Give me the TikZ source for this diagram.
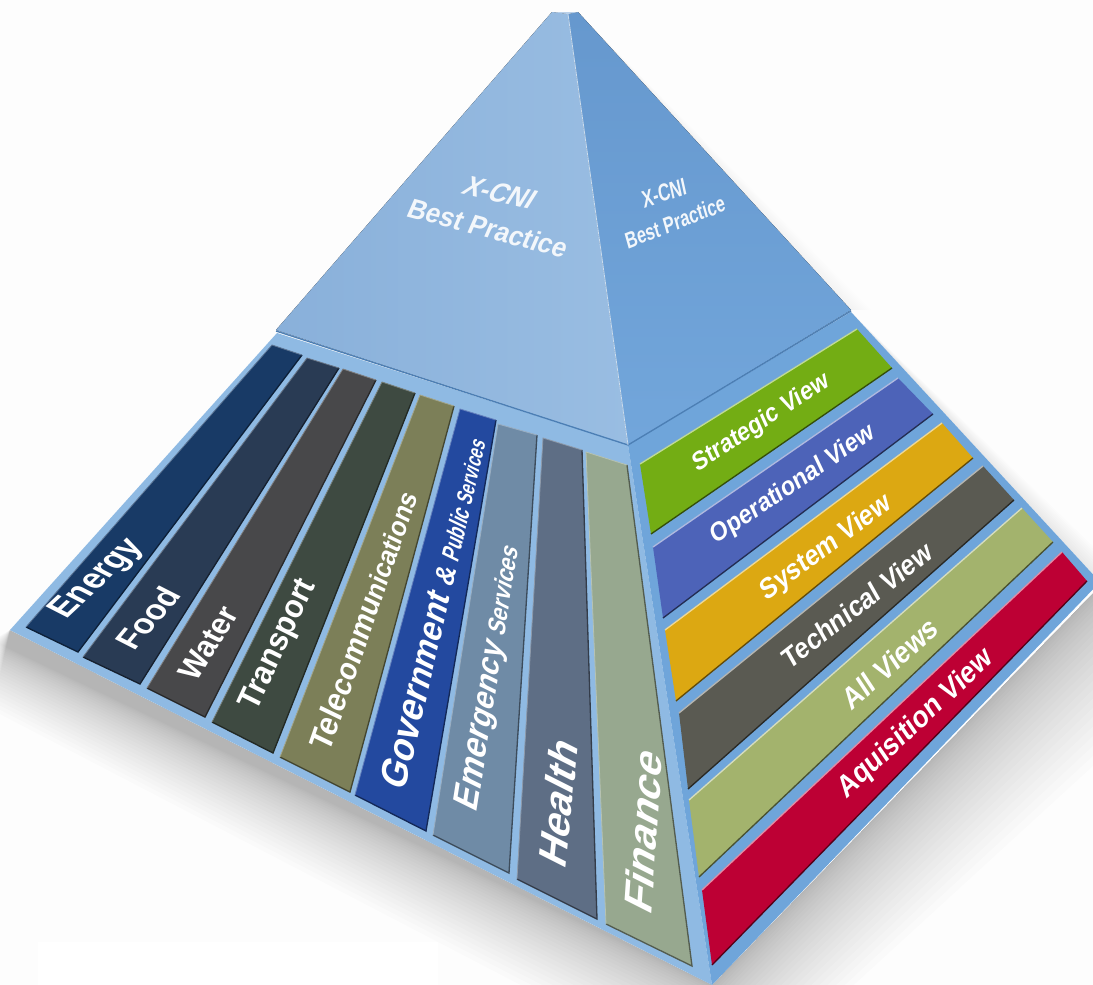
\documentclass[tikz,border=0pt]{standalone}
\usepackage{fontspec}
\setmainfont{Liberation Sans}
\newcommand{\fsz}[1]{\fontsize{#1}{#1}\selectfont}
\definecolor{baseL}{HTML}{8FBAE3}
\definecolor{baseR}{HTML}{6FA5DA}
\definecolor{faceLleft}{HTML}{89B0DA}
\definecolor{faceLright}{HTML}{99BDE2}
\definecolor{faceLtop}{HTML}{8AB1DA}
\definecolor{faceRtop}{HTML}{6698CE}
\definecolor{faceRbot}{HTML}{72A6DB}
\definecolor{ridge}{HTML}{4C7FB5}
\definecolor{pagebg}{HTML}{FDFDFD}
\definecolor{cEnergy}{HTML}{183A66}
\definecolor{cFood}{HTML}{293B54}
\definecolor{cWater}{HTML}{48484A}
\definecolor{cTransport}{HTML}{3E4A41}
\definecolor{cTele}{HTML}{7C7F58}
\definecolor{cGov}{HTML}{23499F}
\definecolor{cEmer}{HTML}{6F8BA6}
\definecolor{cHealth}{HTML}{5E6E85}
\definecolor{cFin}{HTML}{97A88F}
\definecolor{cStrat}{HTML}{73AD14}
\definecolor{cOper}{HTML}{4D63B8}
\definecolor{cSys}{HTML}{DCA812}
\definecolor{cTech}{HTML}{5A5A52}
\definecolor{cAll}{HTML}{A3B36D}
\definecolor{cAqu}{HTML}{BD0034}
\tikzset{
  leftlab/.style={text=white,font=\bfseries,inner sep=0pt,transform shape},
  rightlab/.style={text=white,font=\bfseries,inner sep=0pt,transform shape},
  toplab/.style={text=white!90!faceLtop,font=\bfseries,inner sep=0pt,transform shape}
}
% left-face strip: TL TR BR BL
\newcommand{\lstrip}[5]{%
  \fill[#1] #2 -- #3 -- #4 -- #5 -- cycle;
  \draw[#1!55!black,line width=1pt] #3 -- #4 -- #5;
  \draw[#1!70!white,line width=.6pt] #5 -- #2 -- #3;}
% right-face strip: TL TR BR BL
\newcommand{\rstrip}[5]{%
  \fill[#1] #2 -- #3 -- #4 -- #5 -- cycle;
  \draw[#1!45!black,line width=1pt] #4 -- #5;
  \draw[#1!45!white,line width=1pt] #2 -- #3;}
\begin{document}
\begin{tikzpicture}[x=0.75pt,y=-0.75pt]
\useasboundingbox (0,0) rectangle (1093,985);
\fill[pagebg] (0,0) rectangle (1093,985);
\begin{scope}
\clip (0,0) rectangle (1093,985);
% soft shadows round the base
\foreach \d in {1,...,24}{
  \pgfmathsetmacro{\f}{\d^1.5/117.6}
  \fill[black,opacity=0.0135] (10,630) -- (712,985) -- ({712+\f*20},{985+\f*110}) -- ({-8},{640+\f*70}) -- cycle;
  \fill[black,opacity=0.011] (1096,590) -- (712,985) -- ({712+\f*120},{985+\f*20}) -- ({1096+\f*80},{590+\f*100}) -- cycle;
}
\foreach \d in {1,...,10}{
  \fill[black,opacity=0.006] (851,312) -- (1100,582) -- ({1100+\d*3},{582}) -- cycle;
  \fill[black,opacity=0.005] (578,12) -- (851,310) -- ({851+\d*2},{310}) -- cycle;
}
\end{scope}
\fill[white] (38,942) rectangle (438,985);
% base
\fill[baseL] (10,630) -- (277,333) -- (628,445) -- (712,985) -- cycle;
\fill[baseR] (628,445) -- (851,312) -- (1100,582) -- (712,985) -- cycle;
% left-face strips
\lstrip{cEnergy}{(272,345)}{(302,355)}{(78,652)}{(26,627)}
\lstrip{cFood}{(307,358)}{(339,368)}{(140,684)}{(83,657)}
\lstrip{cWater}{(343,369)}{(376,380)}{(205,717)}{(147,688)}
\lstrip{cTransport}{(382,382)}{(415,393)}{(273,753)}{(212,722)}
\lstrip{cTele}{(420,395)}{(454,406)}{(350,792)}{(280,757)}
\lstrip{cGov}{(460,409)}{(496,420)}{(426,831)}{(355,795)}
\lstrip{cEmer}{(498,424)}{(537,435)}{(509,873)}{(433,835)}
\lstrip{cHealth}{(543,438)}{(582,450)}{(597,919)}{(517,879)}
\lstrip{cFin}{(586,452)}{(627,465)}{(692,966)}{(606,924)}
% right-face strips
\rstrip{cStrat}{(640,464)}{(857,329)}{(892,368)}{(651,534)}
\rstrip{cOper}{(653,547)}{(898,378)}{(933,414)}{(663,618)}
\rstrip{cSys}{(665,630)}{(942,423)}{(973,458)}{(676,701)}
\rstrip{cTech}{(679,713)}{(983,466)}{(1014,500)}{(688,789)}
\rstrip{cAll}{(689,800)}{(1022,508)}{(1053,542)}{(699,877)}
\rstrip{cAqu}{(702,890)}{(1062,552)}{(1087,581)}{(712,965)}
% pyramid faces
\fill[left color=faceLleft,right color=faceLright] (552,12) -- (568,14) -- (628,445) -- (276,330) -- cycle;
\fill[top color=faceRtop,bottom color=faceRbot] (568,14) -- (578,12) -- (851,310) -- (628,445) -- cycle;
\fill[white!40!faceLtop] (552,12) -- (578,12) -- (568,14) -- cycle;
\draw[ridge,line width=1pt] (276,331) -- (628,445) -- (851,311);
\draw[white!55!faceLtop,line width=.6pt] (568,14) -- (628,445);
% labels: left face
\node[leftlab,rotate=43,xslant=-.36,xscale=.93] (energy) at (98,579) {\fsz{25.5}Energy};
\node[leftlab,rotate=50,xslant=-.23,xscale=.93] (food) at (148,618) {\fsz{24.5}Food};
\node[leftlab,rotate=58,xslant=-.09,xscale=.93] (water) at (208,643) {\fsz{24}Water};
\node[leftlab,rotate=65,xslant=.03,xscale=.93] (transport) at (279,645) {\fsz{24.5}Transport};
\node[leftlab,rotate=71,xslant=.12,xscale=.93] (tele) at (363,620) {\fsz{24.5}Tele\fsz{23}commu\fsz{20.5}nications};
\node[leftlab,rotate=77,xslant=.23,xscale=.93] (gov) at (433,612) {\fsz{29}Gover\fsz{26}nment \fsz{21}\& \scalebox{.75}[1]{\fsz{19}Public \fsz{17}Services}};
\node[leftlab,rotate=81,xslant=.31,xscale=.93] (emer) at (489,677) {\fsz{27}Emer\fsz{24}gency \scalebox{.92}[1]{\fsz{19}Services}};
\node[leftlab,rotate=84,xslant=.38,xscale=1.02] (health) at (558,802) {\fsz{30}Health};
\node[leftlab,rotate=86,xslant=.42,xscale=1.06] (finance) at (643,830) {\fsz{30}Finance};
% labels: right face
\node[rightlab,rotate=33,xslant=.15,xscale=.93] (strat) at (761,423) {\fsz{18.8}Strategic View};
\node[rightlab,rotate=34,xslant=.15,xscale=.93] (oper) at (793,485) {\fsz{19.2}Operational View};
\node[rightlab,rotate=36.5,xslant=.15,xscale=.93] (sys) at (826,548) {\fsz{20.8}System View};
\node[rightlab,rotate=38,xslant=.15,xscale=.93] (tech) at (857,605) {\fsz{20.9}Technical View};
\node[rightlab,rotate=42,xslant=.15,xscale=.93] (allv) at (890,663) {\fsz{22}All Views};
\node[rightlab,rotate=43,xslant=.15,xscale=.93] (aqu) at (916,724) {\fsz{22}Aquisition View};
% labels: pyramid
\node[toplab,rotate=-13,xslant=.35,xscale=.93] (xl) at (500,193) {\fsz{21}X-CNI};
\node[toplab,rotate=-15,xslant=.15,xscale=.93] (bl) at (488,228) {\fsz{20.8}Best Practice};
\node[toplab,rotate=18,xslant=.1,xscale=.7] (xr) at (664,193) {\fsz{18}X-CNI};
\node[toplab,rotate=21.5,xslant=.1,xscale=.74] (br) at (675,222) {\fsz{17}Best Practice};
\end{tikzpicture}
\end{document}
